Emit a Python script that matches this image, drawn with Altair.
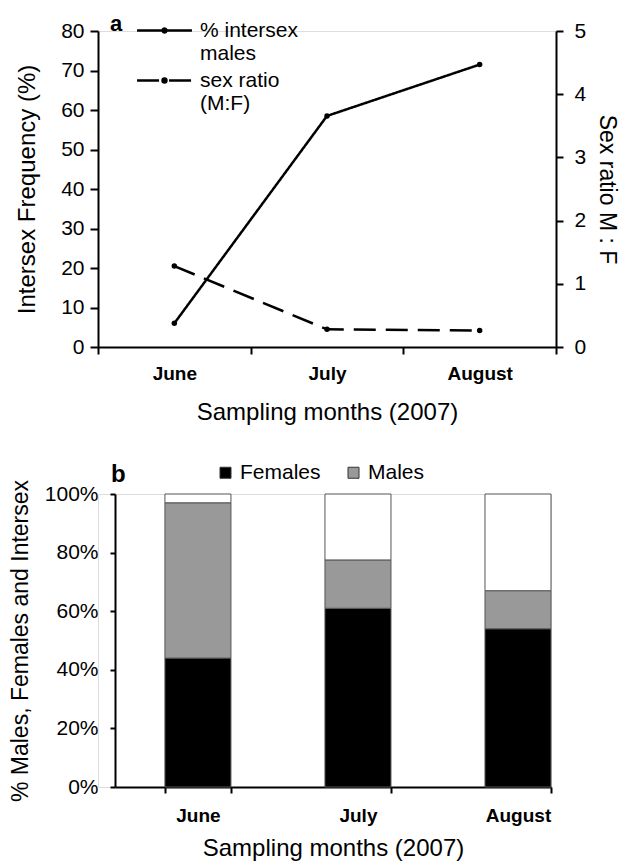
import altair as alt
import pandas as pd

FONT = "Liberation Sans"

# ---- data ----
months = ["June", "July", "August"]
intersex_pct = [6, 58.5, 71.5]          # % intersex males (left axis)
sex_ratio = [1.28, 0.28, 0.26]          # sex ratio M:F (right axis)
series_names = ["% intersex males", "sex ratio (M:F)"]
legend_lines = [["% intersex", "males"], ["sex ratio", "(M:F)"]]

groups = ["Females", "Males", "Intersex"]
females = [44, 61, 54]
males = [53, 16.5, 13]
intersex = [3, 22.5, 33]

# ---- panel a ----
df_int = pd.DataFrame({"month": months, "value": intersex_pct, "series": series_names[0]})
df_ratio = pd.DataFrame({"month": months, "value": sex_ratio, "series": series_names[1]})

label_expr = "datum.label == '%s' ? ['%s', '%s'] : ['%s', '%s']" % (
    series_names[0], legend_lines[0][0], legend_lines[0][1], legend_lines[1][0], legend_lines[1][1])

sym_path = "M-1.83,0L1.83,0M-0.13,0a0.13,0.13 0 1,0 0.26,0a0.13,0.13 0 1,0 -0.26,0"

dash_enc = alt.StrokeDash(
    "series:N",
    scale=alt.Scale(domain=series_names, range=[[1, 0], [22, 10]]),
    legend=alt.Legend(
        title="a", titleOrient="left", titleAnchor="start", titleFont=FONT, titleFontSize=22,
        titleFontWeight="bold", titleColor="black", titlePadding=25,
        titleBaseline="top",
        orient="none", legendX=12, legendY=-17,
        symbolType=sym_path, symbolSize=900, symbolStrokeWidth=2.5,
        symbolStrokeColor="black", symbolFillColor="black",
        labelFont=FONT, labelFontSize=21, labelColor="black",
        labelExpr=label_expr, labelOffset=19, rowPadding=0,
    ),
)

x_top = alt.X(
    "month:N", sort=months,
    scale=alt.Scale(paddingInner=0, paddingOuter=0),
    axis=alt.Axis(
        title="Sampling months (2007)", tickBand="extent", labelAngle=0,
        labelFont=FONT, labelFontSize=19, labelFontWeight="bold",
        titleFont=FONT, titleFontSize=24, titleFontWeight="normal",
        labelPadding=10, titlePadding=17, tickSize=7, tickWidth=2,
        domainWidth=2, domainColor="black", tickColor="black", labelColor="black",
        titleColor="black",
    ),
)

y_left = alt.Y("value:Q", scale=alt.Scale(domain=[0, 80]),
               axis=alt.Axis(title="Intersex Frequency (%)", values=list(range(0, 81, 10)),
                             orient="left", grid=False,
                             labelFont=FONT, labelFontSize=21, titleFont=FONT,
                             titleFontSize=24, titleFontWeight="normal",
                             tickSize=8, tickWidth=2, domainWidth=2, labelPadding=6,
                             titlePadding=21, domainColor="black", tickColor="black",
                             labelColor="black", titleColor="black"))

y_right = alt.Y("value:Q", scale=alt.Scale(domain=[0, 5]),
                axis=alt.Axis(title="Sex ratio M : F", values=list(range(0, 6)),
                              orient="right", grid=False,
                              labelFont=FONT, labelFontSize=21, titleFont=FONT,
                              titleFontSize=23, titleFontWeight="normal",
                              tickSize=7, tickWidth=2, domainWidth=2, labelPadding=11,
                              titlePadding=9, domainColor="black", tickColor="black",
                              labelColor="black", titleColor="black"))

base_int = alt.Chart(df_int).encode(x=x_top, y=y_left)
line_int = base_int.mark_line(color="black", strokeWidth=2.5).encode(strokeDash=dash_enc)
pts_int = base_int.mark_point(filled=True, size=30, color="black", opacity=1)
layer_int = alt.layer(line_int, pts_int)

base_ratio = alt.Chart(df_ratio).encode(x=x_top, y=y_right)
line_ratio = base_ratio.mark_line(color="black", strokeWidth=2.5).encode(strokeDash=dash_enc)
pts_ratio = base_ratio.mark_point(filled=True, size=30, color="black", opacity=1)
layer_ratio = alt.layer(line_ratio, pts_ratio)

top = alt.layer(layer_int, layer_ratio).resolve_scale(y="independent").properties(
    width=458, height=316,
)

# ---- panel b ----
df_bar = pd.DataFrame({
    "month": months * 3,
    "group": [g for g in groups for _ in months],
    "pct": females + males + intersex,
    "order": [i for i in range(3) for _ in months],
})

bottom = alt.Chart(df_bar).mark_bar(stroke="#555555", strokeWidth=1).encode(
    x=alt.X("month:N", sort=months,
            scale=alt.Scale(range=[17, 453], paddingInner=0.5875, paddingOuter=0.156, align=1),
            axis=alt.Axis(title="Sampling months (2007)", tickBand="extent", labelAngle=0,
                          labelFont=FONT, labelFontSize=19, labelFontWeight="bold",
                          titleFont=FONT, titleFontSize=24, titleFontWeight="normal",
                          labelPadding=13, titlePadding=11, tickSize=6, tickWidth=2,
                          domainWidth=2, domainColor="black", tickColor="black",
                          labelColor="black", titleColor="black")),
    y=alt.Y("pct:Q", stack="zero", scale=alt.Scale(domain=[0, 100]),
            axis=alt.Axis(title="% Males, Females and Intersex", values=list(range(0, 101, 20)),
                          labelExpr="datum.value + '%'", offset=-17, grid=False,
                          labelFont=FONT, labelFontSize=21, titleFont=FONT,
                          titleFontSize=23, titleFontWeight="normal",
                          tickSize=5, tickWidth=2, domainWidth=2, labelPadding=12,
                          titlePadding=12, domainColor="black", tickColor="black",
                          labelColor="black", titleColor="black")),
    color=alt.Color("group:N",
                    scale=alt.Scale(domain=groups, range=["black", "#999999", "white"]),
                    legend=alt.Legend(values=["Females", "Males"], title=None,
                                      orient="none", direction="horizontal",
                                      legendX=117, legendY=-32,
                                      symbolType="square", symbolSize=121,
                                      symbolStrokeColor="#333333", symbolStrokeWidth=1,
                                      labelFont=FONT, labelFontSize=21, labelColor="black",
                                      labelOffset=4, columnPadding=22)),
    order=alt.Order("order:Q"),
).properties(
    width=453, height=293,
    title=alt.TitleParams("b", anchor="start", frame="group", dx=13, offset=-25, font=FONT,
                          fontSize=24, fontWeight="bold", color="black"),
)

chart = alt.vconcat(top, bottom, spacing=36).resolve_legend(
    color="independent", strokeDash="independent"
).configure_view(stroke=None).configure(
    background="white", padding={"top": 5, "left": 0, "right": 0, "bottom": 0}
)

chart.save("out.html", embed_options={"renderer": "svg", "actions": False})
